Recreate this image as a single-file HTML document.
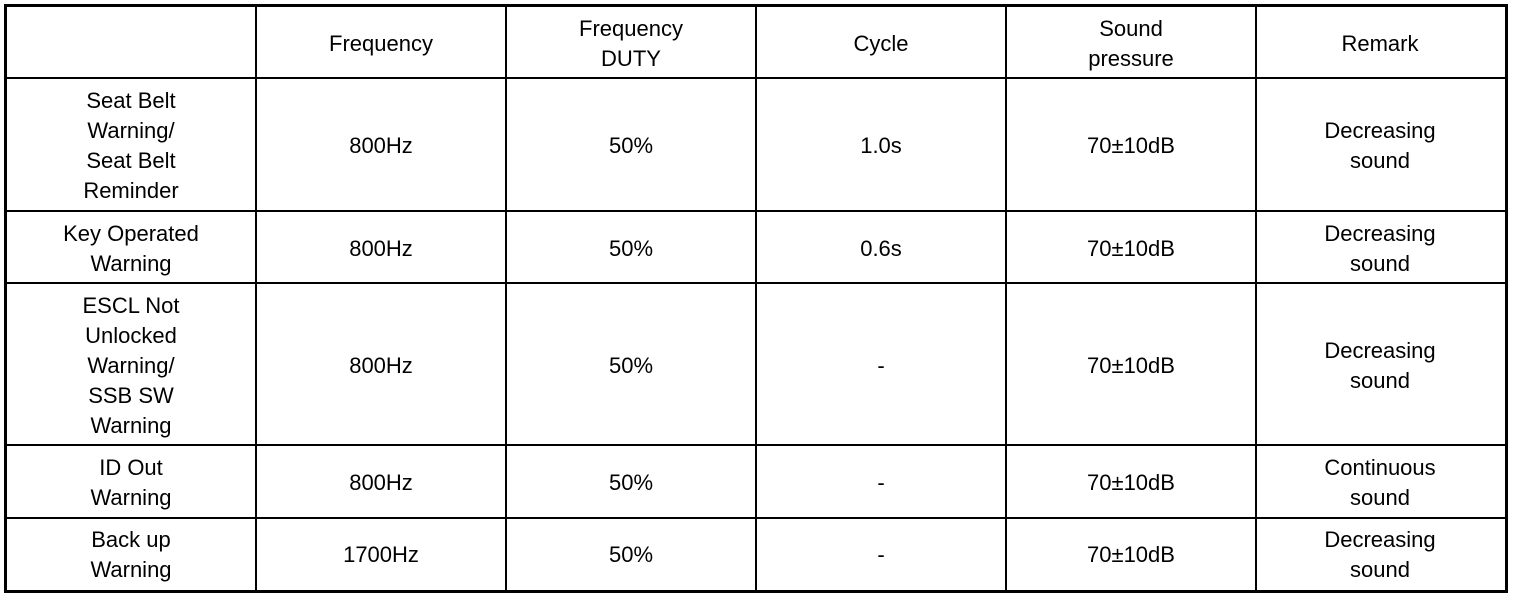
<!DOCTYPE html>
<html><head><meta charset="utf-8"><style>
body{margin:0;width:1520px;height:598px;background:#fff;position:relative;overflow:hidden;font-family:"Liberation Sans",sans-serif;font-size:22px;color:#000}
.h{position:absolute;background:#000;height:2px}
.v{position:absolute;background:#000;width:2px}
.c{position:absolute;display:flex;align-items:center;justify-content:center;text-align:center;line-height:30px;box-sizing:border-box;padding-top:3px}
</style></head><body>
<div style="position:absolute;left:4px;top:4px;width:1498px;height:583px;border:3px solid #000"></div>
<div class="v" style="left:255px;top:7px;height:583px"></div>
<div class="v" style="left:505px;top:7px;height:583px"></div>
<div class="v" style="left:755px;top:7px;height:583px"></div>
<div class="v" style="left:1005px;top:7px;height:583px"></div>
<div class="v" style="left:1255px;top:7px;height:583px"></div>
<div class="h" style="top:77px;left:7px;width:1498px"></div>
<div class="h" style="top:210px;left:7px;width:1498px"></div>
<div class="h" style="top:282px;left:7px;width:1498px"></div>
<div class="h" style="top:444px;left:7px;width:1498px"></div>
<div class="h" style="top:517px;left:7px;width:1498px"></div>
<script>
const cols=[7,257,507,757,1007,1257,1505];
const rows=[7,79,212,284,446,519,590];
const data=[
["","Frequency","Frequency<br>DUTY","Cycle","Sound<br>pressure","Remark"],
["Seat Belt<br>Warning/<br>Seat Belt<br>Reminder","800Hz","50%","1.0s","70±10dB","Decreasing<br>sound"],
["Key Operated<br>Warning","800Hz","50%","0.6s","70±10dB","Decreasing<br>sound"],
["ESCL Not<br>Unlocked<br>Warning/<br>SSB SW<br>Warning","800Hz","50%","-","70±10dB","Decreasing<br>sound"],
["ID Out<br>Warning","800Hz","50%","-","70±10dB","Continuous<br>sound"],
["Back up<br>Warning","1700Hz","50%","-","70±10dB","Decreasing<br>sound"]];
let h="";
for(let r=0;r<6;r++)for(let c=0;c<6;c++){
h+=`<div class="c" style="left:${cols[c]}px;top:${rows[r]}px;width:${cols[c+1]-cols[c]-2}px;height:${rows[r+1]-rows[r]-2}px">${data[r][c]}</div>`;}
document.body.insertAdjacentHTML("beforeend",h);
</script>
</body></html>
